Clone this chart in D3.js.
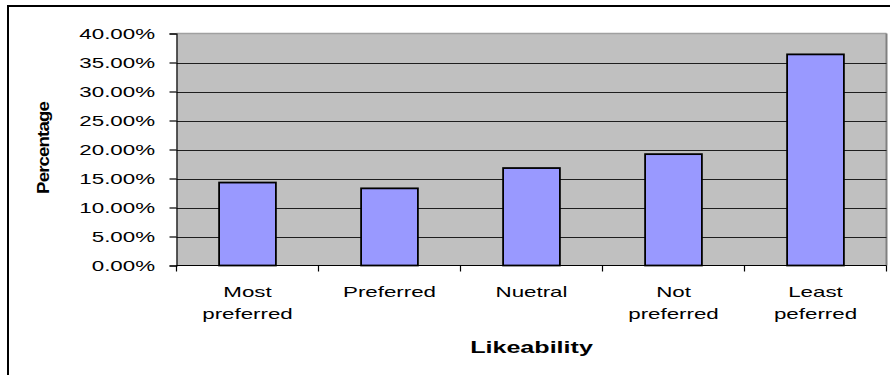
<!DOCTYPE html>
<html>
<head>
<meta charset="utf-8">
<script src="https://cdn.jsdelivr.net/npm/d3@7"></script>
<style>
  html, body { margin: 0; padding: 0; background: #fff; }
  svg { display: block; font-family: "Liberation Sans", Arial, sans-serif; }
</style>
</head>
<body>
<svg id="chart" width="890" height="375"></svg>
<script>
// Likeability survey: share of responses per category
const categories = ["Most preferred", "Preferred", "Nuetral", "Not preferred", "Least peferred"];
const percentages = [0.143, 0.133, 0.168, 0.192, 0.364];
const yTicks = [0, 0.05, 0.10, 0.15, 0.20, 0.25, 0.30, 0.35, 0.40];
const xTitle = "Likeability";
const yTitle = "Percentage";

const svg = d3.select("#chart");
const plot = { left: 176.5, right: 886.5, top: 33.5, bottom: 265.5 };
const stretch = 1.54; // wide lettering used by the chart's text

// outer chart frame
svg.append("rect")
  .attr("x", 8).attr("y", 6).attr("width", 900).attr("height", 400)
  .attr("fill", "#fff").attr("stroke", "#000").attr("stroke-width", 2);

const x = d3.scaleBand().domain(categories).range([plot.left, plot.right]).paddingInner(0).paddingOuter(0);
const y = d3.scaleLinear().domain([0, 0.4]).range([plot.bottom, plot.top]);

// plot background
svg.append("rect")
  .attr("x", plot.left).attr("y", plot.top)
  .attr("width", plot.right - plot.left).attr("height", plot.bottom - plot.top)
  .attr("fill", "#c0c0c0");
svg.append("line")
  .attr("x1", plot.left).attr("x2", plot.right)
  .attr("y1", plot.top).attr("y2", plot.top)
  .attr("stroke", "#a0a0a0").attr("stroke-width", 1.5);
svg.append("line")
  .attr("x1", plot.right).attr("x2", plot.right)
  .attr("y1", plot.top).attr("y2", plot.bottom)
  .attr("stroke", "#808080").attr("stroke-width", 2);

// horizontal gridlines
svg.append("g").selectAll("line")
  .data(yTicks.filter(t => t > 0 && t < 0.4))
  .join("line")
  .attr("x1", plot.left).attr("x2", plot.right)
  .attr("y1", d => Math.round(y(d)) + 0.5).attr("y2", d => Math.round(y(d)) + 0.5)
  .attr("stroke", "#1e1e1e").attr("stroke-width", 1.2);

// bars (bar width = 40% of category width)
const barW = x.bandwidth() * 0.4;
svg.append("g").selectAll("rect")
  .data(percentages)
  .join("rect")
  .attr("x", (d, i) => x(categories[i]) + (x.bandwidth() - barW) / 2)
  .attr("y", d => y(d))
  .attr("width", barW)
  .attr("height", d => y(0) - y(d))
  .attr("fill", "#9999ff")
  .attr("stroke", "#000")
  .attr("stroke-width", 1.8);

// y axis
const yAxis = svg.append("g")
  .attr("transform", `translate(${plot.left},0)`)
  .call(d3.axisLeft(y).tickValues(yTicks).tickSize(7).tickPadding(0).tickFormat(d3.format(".2%")));
yAxis.select(".domain").attr("stroke", "#000").attr("stroke-width", 1.2);
yAxis.selectAll(".tick line").attr("stroke", "#000").attr("stroke-width", 1.2);
yAxis.selectAll(".tick text")
  .attr("x", null).attr("dy", null)
  .attr("fill", "#000")
  .attr("font-size", 14.5)
  .attr("font-family", "'Liberation Sans', Arial, sans-serif")
  .attr("transform", `translate(${155 - plot.left},5.3) scale(${stretch},1)`);

// x axis line and category boundary ticks
svg.append("line")
  .attr("x1", plot.left).attr("x2", plot.right)
  .attr("y1", plot.bottom).attr("y2", plot.bottom)
  .attr("stroke", "#000").attr("stroke-width", 1.2);
const boundaries = categories.map(c => x(c)).concat([x(categories[categories.length - 1]) + x.step()]);
svg.append("g").selectAll("line")
  .data(boundaries)
  .join("line")
  .attr("x1", d => d).attr("x2", d => d)
  .attr("y1", plot.bottom).attr("y2", plot.bottom + 6)
  .attr("stroke", "#000").attr("stroke-width", 1.2);

// category labels, wrapped after the first word
const catLabels = svg.append("g");
categories.forEach(c => {
  const sp = c.indexOf(" ");
  const lines = sp < 0 ? [c] : [c.slice(0, sp), c.slice(sp + 1)];
  const cx = x(c) + x.bandwidth() / 2;
  lines.forEach((ln, j) => {
    catLabels.append("text")
      .attr("transform", `translate(${cx},${297 + j * 21.5}) scale(${stretch},1)`)
      .attr("text-anchor", "middle")
      .attr("font-size", 14.5)
      .attr("fill", "#000")
      .text(ln);
  });
});

// axis titles
svg.append("text")
  .attr("transform", `translate(${(plot.left + plot.right) / 2},353.3) scale(${stretch},1)`)
  .attr("text-anchor", "middle")
  .attr("font-size", 16.3)
  .attr("font-weight", "bold")
  .attr("fill", "#000")
  .text(xTitle);

svg.append("text")
  .attr("transform", "translate(49,148) rotate(-90) scale(1.1,0.92)")
  .attr("text-anchor", "middle")
  .attr("font-size", 17)
  .attr("font-weight", "bold")
  .attr("letter-spacing", -0.8)
  .attr("fill", "#000")
  .text(yTitle);
</script>
</body>
</html>
